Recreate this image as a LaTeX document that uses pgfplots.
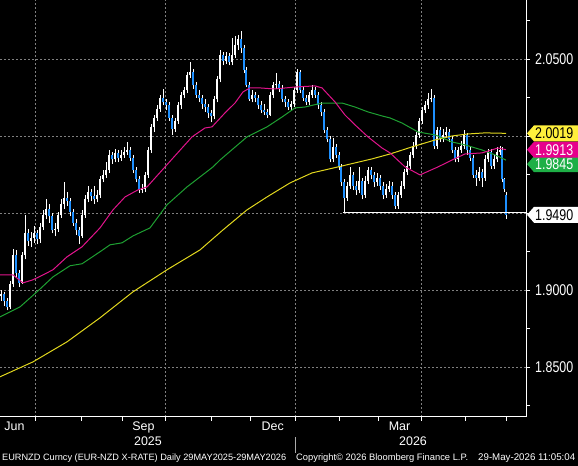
\documentclass[border=0pt]{standalone}
\usepackage{pgfplots}
\pgfplotsset{compat=1.18}
\usepackage{pgfplotstable}
\usepackage{graphicx}
\usepackage{fontspec}
\setmainfont{Liberation Sans}
\definecolor{bbblue}{RGB}{30,144,255}
\definecolor{bbmag}{RGB}{225,20,140}
\definecolor{bbgreen}{RGB}{30,160,50}
\definecolor{bbyellow}{RGB}{225,215,30}
\definecolor{tagyellow}{RGB}{255,240,60}
\definecolor{tagmag}{RGB}{230,0,140}
\definecolor{taggreen}{RGB}{30,175,70}
\definecolor{gridgray}{RGB}{128,128,128}
\definecolor{sepgray}{RGB}{170,170,170}

\pgfplotstableread{
x o h l c
1 1.8960 1.9000 1.8930 1.8975
4 1.8975 1.8990 1.8900 1.8930
7 1.8930 1.8950 1.8870 1.8890
10 1.8890 1.9060 1.8880 1.9040
13 1.9040 1.9270 1.9020 1.9230
16 1.9230 1.9260 1.9080 1.9110
19 1.9110 1.9130 1.9020 1.9050
22 1.9050 1.9250 1.9040 1.9230
25 1.9230 1.9490 1.9200 1.9370
28 1.9370 1.9400 1.9290 1.9320
31 1.9320 1.9380 1.9280 1.9340
34 1.9340 1.9420 1.9310 1.9370
37 1.9370 1.9390 1.9300 1.9330
40 1.9330 1.9440 1.9310 1.9410
43 1.9410 1.9520 1.9390 1.9490
46 1.9490 1.9590 1.9460 1.9530
49 1.9530 1.9560 1.9440 1.9480
52 1.9480 1.9500 1.9370 1.9390
55 1.9390 1.9440 1.9350 1.9400
58 1.9400 1.9510 1.9380 1.9490
61 1.9490 1.9590 1.9470 1.9560
64 1.9560 1.9700 1.9530 1.9600
67 1.9600 1.9640 1.9550 1.9580
70 1.9580 1.9600 1.9480 1.9510
73 1.9510 1.9530 1.9420 1.9440
76 1.9440 1.9460 1.9360 1.9390
79 1.9390 1.9410 1.9300 1.9350
82 1.9350 1.9520 1.9340 1.9490
85 1.9490 1.9620 1.9470 1.9590
88 1.9590 1.9680 1.9570 1.9640
91 1.9640 1.9660 1.9580 1.9610
94 1.9610 1.9680 1.9560 1.9590
97 1.9590 1.9650 1.9570 1.9620
100 1.9620 1.9740 1.9600 1.9720
103 1.9720 1.9780 1.9700 1.9750
106 1.9750 1.9830 1.9730 1.9780
109 1.9780 1.9910 1.9760 1.9880
112 1.9880 1.9900 1.9820 1.9850
115 1.9850 1.9920 1.9830 1.9890
118 1.9890 1.9910 1.9830 1.9860
121 1.9860 1.9910 1.9840 1.9880
124 1.9880 1.9930 1.9860 1.9900
127 1.9900 1.9960 1.9880 1.9910
130 1.9910 1.9930 1.9840 1.9860
133 1.9860 1.9880 1.9760 1.9780
136 1.9780 1.9800 1.9700 1.9720
139 1.9720 1.9740 1.9630 1.9650
142 1.9650 1.9690 1.9630 1.9660
145 1.9660 1.9770 1.9640 1.9750
148 1.9750 1.9930 1.9730 1.9910
151 1.9910 2.0080 1.9890 2.0060
154 2.0060 2.0140 2.0030 2.0120
157 2.0120 2.0200 2.0100 2.0180
160 2.0180 2.0270 2.0160 2.0250
163 2.0250 2.0310 2.0200 2.0220
166 2.0220 2.0240 2.0170 2.0200
169 2.0200 2.0220 2.0100 2.0120
172 2.0120 2.0140 2.0010 2.0050
175 2.0050 2.0120 2.0030 2.0100
178 2.0100 2.0220 2.0080 2.0200
181 2.0200 2.0290 2.0180 2.0270
184 2.0270 2.0320 2.0250 2.0300
187 2.0300 2.0420 2.0280 2.0400
190 2.0400 2.0480 2.0380 2.0420
193 2.0420 2.0440 2.0310 2.0330
196 2.0330 2.0350 2.0250 2.0270
199 2.0270 2.0300 2.0220 2.0250
202 2.0250 2.0270 2.0180 2.0210
205 2.0210 2.0240 2.0160 2.0190
208 2.0190 2.0210 2.0120 2.0150
211 2.0150 2.0170 2.0090 2.0130
214 2.0130 2.0260 2.0110 2.0240
217 2.0240 2.0390 2.0220 2.0370
220 2.0370 2.0560 2.0350 2.0530
223 2.0530 2.0550 2.0460 2.0490
226 2.0490 2.0550 2.0470 2.0520
229 2.0520 2.0540 2.0460 2.0480
232 2.0480 2.0640 2.0460 2.0530
235 2.0530 2.0650 2.0510 2.0590
238 2.0590 2.0660 2.0560 2.0630
241 2.0630 2.0685 2.0540 2.0570
244 2.0570 2.0590 2.0410 2.0430
246 2.0430 2.0450 2.0320 2.0330
249 2.0330 2.0350 2.0230 2.0240
252 2.0240 2.0300 2.0220 2.0270
255 2.0270 2.0290 2.0220 2.0250
258 2.0250 2.0270 2.0180 2.0200
261 2.0200 2.0230 2.0150 2.0170
264 2.0170 2.0210 2.0140 2.0160
267 2.0160 2.0180 2.0120 2.0140
270 2.0140 2.0290 2.0130 2.0270
273 2.0270 2.0350 2.0250 2.0330
276 2.0330 2.0410 2.0310 2.0340
279 2.0340 2.0360 2.0290 2.0310
282 2.0310 2.0330 2.0220 2.0240
285 2.0240 2.0260 2.0190 2.0220
288 2.0220 2.0240 2.0170 2.0190
291 2.0190 2.0230 2.0170 2.0210
294 2.0210 2.0320 2.0190 2.0300
297 2.0300 2.0440 2.0280 2.0420
300 2.0420 2.0430 2.0280 2.0300
303 2.0300 2.0320 2.0230 2.0250
306 2.0250 2.0270 2.0200 2.0220
309 2.0220 2.0290 2.0200 2.0270
312 2.0270 2.0330 2.0250 2.0300
315 2.0300 2.0320 2.0250 2.0270
318 2.0270 2.0290 2.0180 2.0200
321 2.0200 2.0220 2.0130 2.0160
324 2.0160 2.0180 2.0020 2.0040
327 2.0040 2.0060 1.9960 1.9980
330 1.9980 2.0000 1.9830 1.9850
333 1.9850 1.9990 1.9830 1.9930
336 1.9930 1.9950 1.9860 1.9880
339 1.9880 1.9900 1.9780 1.9800
341 1.9800 1.9820 1.9680 1.9700
344 1.9700 1.9720 1.9505 1.9600
347 1.9600 1.9700 1.9580 1.9680
350 1.9680 1.9800 1.9660 1.9750
353 1.9750 1.9770 1.9650 1.9680
356 1.9680 1.9710 1.9620 1.9650
359 1.9650 1.9800 1.9630 1.9710
362 1.9710 1.9730 1.9590 1.9620
365 1.9620 1.9740 1.9600 1.9710
368 1.9710 1.9800 1.9690 1.9780
371 1.9780 1.9800 1.9720 1.9750
374 1.9750 1.9770 1.9670 1.9700
377 1.9700 1.9760 1.9680 1.9730
380 1.9730 1.9750 1.9650 1.9680
383 1.9680 1.9700 1.9590 1.9620
386 1.9620 1.9690 1.9600 1.9660
389 1.9660 1.9710 1.9640 1.9680
392 1.9680 1.9700 1.9590 1.9620
395 1.9620 1.9640 1.9530 1.9550
398 1.9550 1.9640 1.9530 1.9620
401 1.9620 1.9710 1.9600 1.9680
404 1.9680 1.9790 1.9660 1.9770
407 1.9770 1.9840 1.9750 1.9810
410 1.9810 1.9900 1.9790 1.9880
413 1.9880 1.9960 1.9860 1.9940
416 1.9940 2.0030 1.9920 2.0010
419 2.0010 2.0120 1.9990 2.0100
422 2.0100 2.0190 2.0080 2.0170
425 2.0170 2.0230 2.0150 2.0200
428 2.0200 2.0280 2.0180 2.0240
431 2.0240 2.0310 2.0220 2.0250
434 2.0250 2.0270 1.9920 1.9940
437 1.9940 2.0060 1.9920 2.0040
440 2.0040 2.0060 1.9960 1.9980
443 1.9980 2.0050 1.9960 2.0010
446 2.0010 2.0060 1.9990 2.0030
449 2.0030 2.0050 1.9960 1.9980
452 1.9980 2.0000 1.9890 1.9910
455 1.9910 1.9930 1.9830 1.9850
458 1.9850 1.9930 1.9830 1.9910
461 1.9910 1.9970 1.9890 1.9940
464 1.9940 2.0040 1.9920 2.0010
467 2.0010 2.0020 1.9880 1.9910
470 1.9910 1.9930 1.9840 1.9860
473 1.9860 1.9880 1.9730 1.9750
476 1.9750 1.9780 1.9680 1.9730
479 1.9730 1.9800 1.9710 1.9770
482 1.9770 1.9790 1.9670 1.9730
485 1.9730 1.9880 1.9710 1.9850
488 1.9850 1.9920 1.9830 1.9900
491 1.9900 1.9920 1.9790 1.9810
494 1.9810 1.9880 1.9790 1.9850
497 1.9850 1.9930 1.9830 1.9900
500 1.9900 1.9940 1.9880 1.9910
502 1.9910 1.9930 1.9700 1.9720
504 1.9720 1.9730 1.9640 1.9660
506 1.9620 1.9640 1.9465 1.9490
}\candles

\pgfplotstableread{
x y
0 1.9100
13 1.9100
23 1.9048
33 1.9068
43 1.9100
53 1.9133
67 1.9217
82 1.9282
100 1.9405
113 1.9522
125 1.9606
138 1.9652
147 1.9671
165 1.9801
192 1.9996
205 2.0054
212 2.0061
225 2.0152
235 2.0216
243 2.0288
250 2.0314
260 2.0314
275 2.0307
295 2.0320
315 2.0327
322 2.0314
335 2.0223
345 2.0138
355 2.0074
368 1.9996
382 1.9924
390 1.9892
405 1.9801
420 1.9749
438 1.9801
452 1.9846
465 1.9885
482 1.9892
498 1.9924
506 1.9913
}\mamag

\pgfplotstableread{
x y
0 1.8827
20 1.8892
37 1.8990
53 1.9087
70 1.9159
82 1.9172
100 1.9250
110 1.9295
122 1.9308
133 1.9353
150 1.9405
167 1.9555
187 1.9671
213 1.9801
220 1.9846
247 1.9996
267 2.0061
282 2.0125
295 2.0184
305 2.0190
322 2.0216
342 2.0216
355 2.0190
368 2.0158
382 2.0132
390 2.0119
402 2.0086
418 2.0028
435 2.0009
452 1.9963
465 1.9944
482 1.9911
495 1.9879
506 1.9845
}\magrn

\pgfplotstableread{
x y
0 1.8438
33 1.8535
67 1.8665
100 1.8821
133 1.8990
167 1.9133
200 1.9262
223 1.9392
247 1.9522
267 1.9606
290 1.9697
312 1.9762
338 1.9801
355 1.9827
372 1.9853
390 1.9885
412 1.9931
435 1.9976
452 2.0002
468 2.0015
485 2.0022
506 2.0019
}\mayel

\newcommand{\tallnum}[1]{\scalebox{0.96}[1.2]{#1}}
\newcommand{\pricetag}[5]{%
  \fill[#2] ([xshift=1bp,yshift=#5]#1) -- ++(7,8) -- ++(44,0) -- ++(0,-16) -- ++(-44,0) -- cycle;
  \node[anchor=west, inner sep=0pt, text=#3, font=\fontsize{13}{13}\selectfont] at ([xshift=9bp,yshift=#5]#1) {\tallnum{#4}};
}

\begin{document}
\begin{tikzpicture}[x=1bp,y=1bp]
\fill[black] (0,0) rectangle (578,466);
\path[use as bounding box] (0,0) rectangle (578,466);
\begin{axis}[
  at={(0bp,49bp)}, anchor=south west,
  scale only axis, width=526bp, height=417bp,
  xmin=0, xmax=526, ymin=1.8177, ymax=2.0885,
  axis x line*=bottom, axis y line*=right,
  axis line style={white, line width=1bp, -},
  tick align=outside,
  major tick length=4bp, minor tick length=4bp,
  every tick/.style={white, line width=1bp},
  xtick={35,165.5,295,421},
  xticklabels={},
  minor xtick={81.5,122,211.6,250.6,339,378,465.5,506.4},
  ytick={1.85,1.90,1.95,2.00,2.05},
  minor ytick={1.825,1.875,1.925,1.975,2.025,2.075},
  xmajorgrids, ymajorgrids,
  major grid style={gridgray, line width=0.8bp, dash pattern=on 2bp off 2bp},
  yticklabel style={anchor=west, inner sep=0pt, xshift=5bp, text=white, font=\fontsize{13}{13}\selectfont},
  yticklabels={\tallnum{1.8500},\tallnum{1.9000},{},{},\tallnum{2.0500}},
]
% wicks
\addplot[draw=none, mark=none, forget plot,
  error bars/.cd, y dir=plus, y explicit, error mark=none,
  error bar style={draw=white, line width=1bp, solid}]
  table[x=x, y=l, y error plus expr=\thisrow{h}-\thisrow{l}] {\candles};
% bodies (all white)
\addplot[draw=none, mark=none, forget plot,
  error bars/.cd, y dir=plus, y explicit, error mark=none,
  error bar style={draw=white, line width=2.4bp, solid}]
  table[x=x, y expr={min(\thisrow{o},\thisrow{c})}, y error plus expr={abs(\thisrow{c}-\thisrow{o})}] {\candles};
% down bodies blue
\addplot[draw=none, mark=none, forget plot,
  x filter/.expression={\thisrow{c}<\thisrow{o} ? x : nan},
  error bars/.cd, y dir=plus, y explicit, error mark=none,
  error bar style={draw=bbblue, line width=2.4bp, solid}]
  table[x=x, y expr={min(\thisrow{o},\thisrow{c})}, y error plus expr={abs(\thisrow{c}-\thisrow{o})}] {\candles};
% moving averages
\addplot[bbyellow, line width=1bp, mark=none] table[x=x,y=y] {\mayel};
\addplot[bbgreen, line width=1bp, mark=none] table[x=x,y=y] {\magrn};
\addplot[bbmag, line width=1bp, mark=none] table[x=x,y=y] {\mamag};
% support line
\addplot[white, line width=1bp, mark=none] coordinates {(343,1.9505) (526,1.9505)};
\coordinate (tY) at (axis cs:526,2.0019);
\coordinate (tM) at (axis cs:526,1.9913);
\coordinate (tG) at (axis cs:526,1.9845);
\coordinate (tW) at (axis cs:526,1.9490);
\end{axis}
\pricetag{tG}{taggreen}{white}{1.9845}{-4bp}
\pricetag{tM}{tagmag}{white}{1.9913}{0bp}
\pricetag{tY}{tagyellow}{black}{2.0019}{0bp}
\pricetag{tW}{white}{black}{1.9490}{0bp}
% month labels
\begin{scope}[every node/.style={anchor=base, inner sep=0pt, text=white, font=\fontsize{12.5}{12.5}\selectfont}]
\node at (14.5,35) {Jun};
\node at (143.5,35) {Sep};
\node at (272.8,35) {Dec};
\node at (399.5,35) {Mar};
\node at (148,20.3) {2025};
\node at (413,20.3) {2026};
\end{scope}
\draw[sepgray, line width=0.8bp] (295,13) -- (295,29);
% footer
\begin{scope}[every node/.style={anchor=base west, inner sep=0pt, text=white}]
\node at (2,5) {\resizebox{284bp}{!}{\fontsize{9}{9}\selectfont EURNZD Curncy (EUR-NZD X-RATE) Daily 29MAY2025-29MAY2026}};
\node at (296,5) {\resizebox{172bp}{!}{\fontsize{9}{9}\selectfont Copyright© 2026 Bloomberg Finance L.P.}};
\node at (478,5) {\resizebox{97bp}{!}{\fontsize{9}{9}\selectfont 29-May-2026 11:05:04}};
\end{scope}
\end{tikzpicture}
\end{document}
